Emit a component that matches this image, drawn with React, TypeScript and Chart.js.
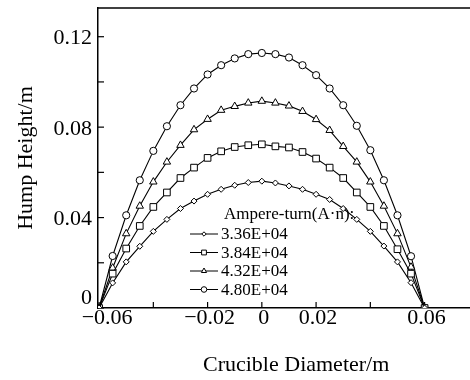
import React, { useEffect, useRef } from "react";
import { Chart, registerables } from "chart.js";

Chart.register(...registerables);

const xValues = [
  -0.06, -0.055, -0.05, -0.045, -0.04, -0.035, -0.03, -0.025, -0.02, -0.015, -0.01, -0.005, 0,
  0.005, 0.01, 0.015, 0.02, 0.025, 0.03, 0.035, 0.04, 0.045, 0.05, 0.055, 0.06,
];

const series336 = [
  0, 0.0111, 0.0204, 0.0273, 0.0339, 0.0392, 0.044, 0.0473, 0.0503, 0.0525, 0.0543, 0.0555, 0.0561,
  0.0553, 0.054, 0.0525, 0.0503, 0.048, 0.044, 0.0392, 0.0339, 0.0274, 0.0204, 0.0112, 0,
];
const series384 = [
  0, 0.0152, 0.0263, 0.0363, 0.0447, 0.0511, 0.0575, 0.0621, 0.0664, 0.0693, 0.0712, 0.072, 0.0724,
  0.0715, 0.071, 0.069, 0.0661, 0.0621, 0.0575, 0.0511, 0.0447, 0.0363, 0.026, 0.0152, 0,
];
const series432 = [
  0, 0.0177, 0.0329, 0.0451, 0.0558, 0.0646, 0.072, 0.0789, 0.0835, 0.0875, 0.0892, 0.0907, 0.0915,
  0.0907, 0.0894, 0.087, 0.0834, 0.0786, 0.0715, 0.0646, 0.0558, 0.0451, 0.0329, 0.0181, 0,
];
const series480 = [
  0, 0.023, 0.041, 0.0565, 0.0695, 0.0804, 0.0897, 0.0971, 0.1033, 0.1074, 0.1104, 0.1123, 0.1128,
  0.1123, 0.1108, 0.1074, 0.103, 0.0971, 0.0897, 0.0806, 0.0698, 0.0565, 0.041, 0.0229, 0,
];

const seriesLabels = ["3.36E+04", "3.84E+04", "4.32E+04", "4.80E+04"];
const legendTitle = "Ampere-turn(A\u00b7n):";

const xTickValues = [-0.06, -0.04, -0.02, 0, 0.02, 0.04, 0.06];
const xTickLabels = ["\u22120.06", "", "\u22120.02", "0", "0.02", "", "0.06"];
const yTickValues = [0, 0.02, 0.04, 0.06, 0.08, 0.1, 0.12];
const yTickLabels = ["0", "", "0.04", "", "0.08", "", "0.12"];

const xTitle = "Crucible Diameter/m";
const yTitle = "Hump Height/m";

const FONT = "'Liberation Serif', 'Times New Roman', serif";

export default function App() {
  const canvasRef = useRef<HTMLCanvasElement | null>(null);

  useEffect(() => {
    const canvas = canvasRef.current;
    if (!canvas) return;

    const styles = [
      { style: "rectRot", radius: 3, legendRadius: 2.2 },
      { style: "rect", radius: 4.7, legendRadius: 3.4 },
      { style: "triangle", radius: 4.3, legendRadius: 3 },
      { style: "circle", radius: 3.6, legendRadius: 2.8 },
    ];
    const allSeries = [series336, series384, series432, series480];

    const datasets = allSeries.map((s, i) => ({
      label: seriesLabels[i],
      data: xValues.map((x, j) => ({ x, y: s[j] })),
      borderColor: "#000",
      borderWidth: 1.1,
      backgroundColor: "#fff",
      pointStyle: styles[i].style as any,
      pointRadius: styles[i].radius,
      pointBorderWidth: 1,
      pointBorderColor: "#000",
      pointBackgroundColor: "#fff",
      tension: 0,
      fill: false,
    }));

    function drawMarker(ctx: CanvasRenderingContext2D, style: string, x: number, y: number, r: number) {
      ctx.save();
      ctx.fillStyle = "#fff";
      ctx.strokeStyle = "#000";
      ctx.lineWidth = 1;
      ctx.beginPath();
      if (style === "circle") {
        ctx.arc(x, y, r, 0, Math.PI * 2);
      } else if (style === "rect") {
        const s = r * Math.SQRT1_2;
        ctx.rect(x - s, y - s, 2 * s, 2 * s);
      } else if (style === "rectRot") {
        ctx.moveTo(x, y - r);
        ctx.lineTo(x + r, y);
        ctx.lineTo(x, y + r);
        ctx.lineTo(x - r, y);
        ctx.closePath();
      } else if (style === "triangle") {
        ctx.moveTo(x, y - r);
        ctx.lineTo(x + r * Math.sin(Math.PI / 3), y + r / 2);
        ctx.lineTo(x - r * Math.sin(Math.PI / 3), y + r / 2);
        ctx.closePath();
      }
      ctx.fill();
      ctx.stroke();
      ctx.restore();
    }

    const decor = {
      id: "decor",
      beforeDatasetsDraw(chart: any) {
        const { ctx, chartArea, scales } = chart;
        ctx.save();
        ctx.strokeStyle = "#000";
        ctx.lineWidth = 1.5;
        ctx.beginPath();
        ctx.moveTo(chartArea.left, chartArea.top);
        ctx.lineTo(chart.width, chartArea.top);
        ctx.stroke();
        ctx.lineWidth = 1.2;
        xTickValues.forEach((v) => {
          const px = scales.x.getPixelForValue(v);
          ctx.beginPath();
          ctx.moveTo(px, chartArea.bottom);
          ctx.lineTo(px, chartArea.bottom - 6);
          ctx.stroke();
        });
        yTickValues.forEach((v) => {
          const py = scales.y.getPixelForValue(v);
          ctx.beginPath();
          ctx.moveTo(chartArea.left, py);
          ctx.lineTo(chartArea.left + 6, py);
          ctx.stroke();
        });

        // tick labels
        ctx.fillStyle = "#000";
        ctx.font = `22px ${FONT}`;
        ctx.textBaseline = "alphabetic";
        ctx.textAlign = "right";
        yTickValues.forEach((v, i) => {
          const label = yTickLabels[i];
          if (!label) return;
          const py = scales.y.getPixelForValue(v);
          const dy = v === 0 ? -4 : 7.5;
          ctx.fillText(label, chartArea.left - 6, py + dy);
        });
        ctx.textAlign = "center";
        xTickValues.forEach((v, i) => {
          const label = xTickLabels[i];
          if (!label) return;
          const px = scales.x.getPixelForValue(v);
          const dx = i === 0 ? 8 : 2;
          ctx.fillText(label, px + dx, chartArea.bottom + 16);
        });
        ctx.restore();
      },
      afterDraw(chart: any) {
        const { ctx } = chart;
        ctx.save();
        ctx.fillStyle = "#000";
        ctx.textBaseline = "middle";
        ctx.textAlign = "left";
        ctx.font = `17px ${FONT}`;
        ctx.fillText(legendTitle, 224, 215);
        const rows = [234, 252.5, 271, 289.5];
        chart.data.datasets.forEach((ds: any, i: number) => {
          const y = rows[i];
          ctx.strokeStyle = "#000";
          ctx.lineWidth = 1;
          ctx.beginPath();
          ctx.moveTo(190, y);
          ctx.lineTo(218, y);
          ctx.stroke();
          drawMarker(ctx, styles[i].style, 204, y, styles[i].legendRadius);
          ctx.fillStyle = "#000";
          ctx.fillText(ds.label, 221, y + 1);
        });
        ctx.restore();
      },
    };

    const chart = new Chart(canvas, {
      type: "line",
      data: { datasets: datasets as any },
      options: {
        animation: false,
        responsive: false,
        maintainAspectRatio: false,
        layout: { padding: { top: 8, right: 4, left: 0, bottom: 0 } },
        plugins: { legend: { display: false }, tooltip: { enabled: false } },
        scales: {
          x: {
            type: "linear",
            min: -0.0604,
            max: 0.0857,
            afterFit: (s: any) => {
              s.height = 72;
            },
            afterBuildTicks: (s: any) => {
              s.ticks = xTickValues.map((v) => ({ value: v }));
            },
            grid: { drawOnChartArea: false, drawTicks: false },
            border: { display: true, color: "#000", width: 1.5 },
            ticks: { display: false },
            title: {
              display: true,
              text: xTitle,
              color: "#000",
              font: { family: FONT, size: 22, lineHeight: 1.2 },
              padding: { top: 0, bottom: 2 },
            },
          },
          y: {
            type: "linear",
            min: 0,
            max: 0.1327,
            afterFit: (s: any) => {
              s.width = 98;
            },
            afterBuildTicks: (s: any) => {
              s.ticks = yTickValues.map((v) => ({ value: v }));
            },
            grid: { drawOnChartArea: false, drawTicks: false },
            border: { display: true, color: "#000", width: 1.5 },
            ticks: { display: false },
            title: {
              display: true,
              text: yTitle,
              color: "#000",
              font: { family: FONT, size: 22, lineHeight: 1.2 },
              padding: { top: 13, bottom: 0 },
            },
          },
        },
      },
      plugins: [decor],
    });

    return () => chart.destroy();
  }, []);

  return (
    <div
      style={{
        position: "fixed",
        left: 0,
        top: 0,
        width: 470,
        height: 380,
        overflow: "hidden",
        background: "#fff",
      }}
    >
      <canvas ref={canvasRef} width={500} height={380} style={{ width: 500, height: 380, display: "block" }} />
    </div>
  );
}
